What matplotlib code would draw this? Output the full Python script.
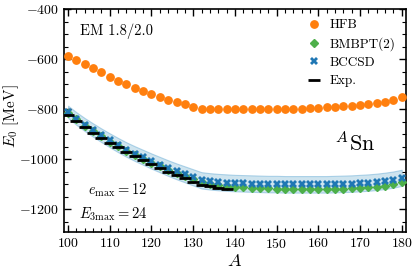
import numpy as np
import matplotlib
matplotlib.use('agg')
import matplotlib.pyplot as plt
from matplotlib.ticker import MultipleLocator

plt.rcParams['font.family'] = 'serif'
plt.rcParams['font.serif'] = ['cmr10']
plt.rcParams['mathtext.fontset'] = 'cm'
plt.rcParams['axes.formatter.use_mathtext'] = True

# mass numbers of the Sn chain
mass = list(range(100, 182, 2))

hfb = [-588, -605, -621, -637, -653, -670, -686, -701, -715, -728,
       -741, -752, -762, -771, -780, -790, -799, -801, -801, -801,
       -801, -800, -800, -800, -800, -799, -799, -799, -798, -797,
       -795, -793, -791, -789, -786, -784, -781, -777, -772, -765, -750]

bmbpt = [-814, -841, -866, -888, -909, -930, -949, -967, -984, -999,
         -1014, -1029, -1043, -1056, -1068, -1081, -1093, -1100, -1104, -1108,
         -1111, -1113, -1115, -1116, -1117, -1118, -1119, -1119, -1120, -1120,
         -1120, -1120, -1119, -1118, -1117, -1115, -1113, -1110, -1106, -1101, -1093]

bccsd = [-811, -838, -862, -884, -905, -925, -944, -962, -978, -993,
         -1008, -1022, -1036, -1049, -1061, -1073, -1085, -1089, -1092, -1094,
         -1096, -1097, -1098, -1099, -1100, -1100, -1101, -1101, -1101, -1101,
         -1101, -1101, -1100, -1099, -1098, -1096, -1094, -1091, -1087, -1082, -1075]

# relative uncertainty of the coupled cluster band
bccsd_err = 0.03

exp_mass = list(range(100, 140, 2))
exp_e = [-825.3, -849.1, -872.0, -893.8, -914.7, -934.6, -953.5, -971.6, -988.7, -1004.9,
         -1020.5, -1035.5, -1050.0, -1063.9, -1077.4, -1090.3, -1102.8, -1109.1, -1114.6, -1120.0]

fig = plt.figure(figsize=(4.15, 2.74), dpi=100)
ax = fig.add_axes([0.154, 0.152, 0.824, 0.815])

cc = np.array(bccsd, dtype=float)
ax.fill_between(mass, cc * (1 + bccsd_err), cc * (1 - bccsd_err),
                facecolor='#9ecae1', edgecolor='#6baed6', alpha=0.5, lw=0.8, zorder=1)

ax.plot(mass, hfb, 'o', color='#ff7f0e', ms=5.3, label='HFB', zorder=3)
ax.plot(mass, bmbpt, 'D', color='#4daf4a', ms=4.5, label='BMBPT(2)', zorder=3)
ax.plot(mass, bccsd, 'X', color='#1f77b4', ms=6.2, mew=0, label='BCCSD', zorder=4)
ax.plot(exp_mass, exp_e, '_', color='black', ms=8.5, mew=2, label='Exp.', zorder=5)

ax.set_xlim(99, 181)
ax.set_ylim(-1293, -400)
ax.xaxis.set_major_locator(MultipleLocator(10))
ax.xaxis.set_minor_locator(MultipleLocator(2))
ax.yaxis.set_major_locator(MultipleLocator(200))
ax.yaxis.set_minor_locator(MultipleLocator(50))
ax.tick_params(which='both', direction='in', top=True, right=True, labelsize=10)
ax.tick_params(which='major', length=5, width=1)
ax.tick_params(which='minor', length=3, width=0.8)
for s in ax.spines.values():
    s.set_linewidth(1.2)

ax.set_xlabel('$A$', fontsize=13, labelpad=1)
ax.set_ylabel('$E_0$ [MeV]', fontsize=11)
ax.yaxis.set_label_coords(-0.125, 0.52)

ax.text(0.047, 0.90, 'EM 1.8/2.0', transform=ax.transAxes, fontsize=10.5, va='center')
ax.text(0.243, 0.135, '$e_{\\max} = 12$\n$E_{3\\max} = 24$', transform=ax.transAxes,
        fontsize=10.5, ha='right', va='center', multialignment='right', linespacing=1.45)
ax.text(0.852, 0.40, '$^{A}$Sn', transform=ax.transAxes, fontsize=16,
        ha='center', va='center')

ax.legend(loc='upper right', frameon=False, fontsize=9.5, handlelength=1.2,
          handletextpad=0.6, labelspacing=0.45, borderaxespad=0.35)

plt.savefig('out.png', dpi=100)
plt.close()
